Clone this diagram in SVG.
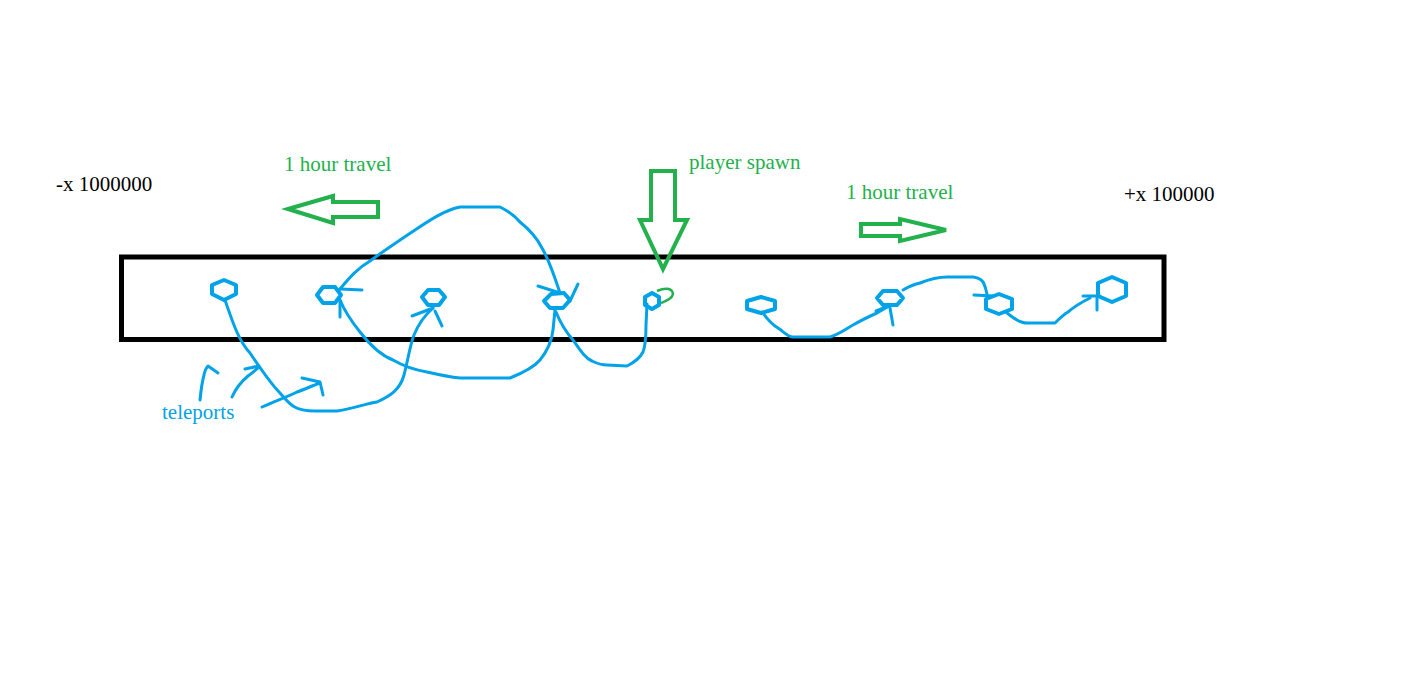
<svg xmlns="http://www.w3.org/2000/svg" width="1402" height="683" viewBox="0 0 1402 683">
<style>
.t{font-family:"Liberation Serif","Times New Roman",serif;font-size:21px}
.g{fill:#22B14C}.k{fill:#000}.b{fill:#00A2E8}
.hex{fill:none;stroke:#00A2E8;stroke-width:4;stroke-linejoin:round}
.cur{fill:none;stroke:#00A2E8;stroke-width:3;stroke-linecap:round;stroke-linejoin:round}
.ga{fill:none;stroke:#22B14C;stroke-width:4;stroke-linejoin:miter}
</style>
<rect width="1402" height="683" fill="#fff"/>
<rect id="bar" x="121.5" y="257" width="1042.5" height="82.5" fill="none" stroke="#000" stroke-width="5"/>
<g id="labels">
<text class="t k" x="56" y="191">-x 1000000</text>
<text class="t g" x="284" y="171">1 hour travel</text>
<text class="t g" x="689" y="169">player spawn</text>
<text class="t g" x="846" y="199">1 hour travel</text>
<text class="t k" x="1124" y="201">+x 100000</text>
<text class="t b" x="162" y="419">teleports</text>
</g>
<g id="green-arrows">
<polygon class="ga" points="288,209 333,196 333,202 378,202 378,217 333,217 333,223"/>
<polygon class="ga" points="651,171 675,171 675,220 687,220 663,269 640,220 651,220"/>
<polygon class="ga" points="861,224 900,224 900,219 946,230 900,241 900,236 861,236"/>
<path d="M657 291 C664 288 672 287 673 294 C672 299 666 301 661 303" fill="none" stroke="#22B14C" stroke-width="2.5"/>
</g>
<g id="teleport-nodes">
<polygon class="hex" points="224,280 236,285 236,294 224,300 212,294 212,285"/>
<polygon class="hex" points="317,295 323,287 335,287 341,295 335,303 323,303"/>
<polygon class="hex" points="422,297 428,290 439,290 445,297 439,305 428,305"/>
<polygon class="hex" points="544,301 551,294 564,293 570,300 563,308 550,308"/>
<polygon class="hex" points="652,293 659,297 659,305 652,309 645,305 645,297"/>
<polygon class="hex" points="761,297 775,301 775,309 761,313 747,309 747,301"/>
<polygon class="hex" points="877,298 883,291 897,291 903,298 897,305 883,305"/>
<polygon class="hex" points="999,294 1012,299 1012,309 999,314 986,309 986,299"/>
<polygon class="hex" points="1112,277 1126,283 1126,296 1112,302 1098,296 1098,283"/>
</g>
<g id="connectors">
<path class="cur" d="M225 300 C232 320 238 340 250 353 C258 365 270 383 280 393 C290 405 295 411 315 411 L337 411 C355 408 365 404 377 402 C390 396 400 390 404 375 C408 360 410 345 414 335 C418 325 424 316 433 308"/>
<path class="cur" d="M412 316 L433 308 M435 311 L442 326"/>
<path class="cur" d="M340 289 C350 277 358 268 370 261 C385 250 400 240 415 230 C430 220 445 210 460 207 L500 207 C510 212 515 216 520 222 C530 230 537 238 542 248 C550 262 555 278 560 293"/>
<path class="cur" d="M538 286 L560 293 M578 284 L570 301"/>
<path class="cur" d="M340 300 C345 312 352 322 360 332 C370 345 380 355 393 360 C405 367 415 370 427 372 C440 375 450 377 460 378 L510 378 C525 372 535 366 540 360 C548 350 552 340 553 330 L555 310"/>
<path class="cur" d="M340 289 L362 290 M340 300 L340 317"/>
<path class="cur" d="M556 312 C560 322 566 332 573 340 C580 350 585 358 592 361 C598 364 603 365 607 365 L627 366 C635 362 640 358 643 352 C646 345 646 335 646 325 L647 304"/>
<path class="cur" d="M763 313 C768 320 773 325 778 328 C784 332 788 337 793 337 L830 337 C840 334 846 329 853 325 C862 320 870 316 877 313 L889 306"/>
<path class="cur" d="M876 311 L889 306 M890 308 L893 325"/>
<path class="cur" d="M903 290 C910 286 915 284 920 283 C930 279 940 277 947 277 L973 277 C980 278 983 281 984 284 C986 288 986 291 987 294"/>
<path class="cur" d="M974 295 L993 296"/>
<path class="cur" d="M1007 313 C1013 318 1020 323 1027 323 L1055 323 C1060 318 1063 315 1068 312 C1075 306 1082 302 1090 298"/>
<path class="cur" d="M1083 296 L1100 296 M1097 297 L1097 310"/>
<path class="cur" d="M200 400 C201 390 202 382 204 375 C205 370 207 367 208 366 L218 373"/>
<path class="cur" d="M232 397 C236 388 242 381 248 376 C252 373 256 370 259 367 M245 369 L259 366"/>
<path class="cur" d="M262 407 C275 401 287 397 297 392 C305 389 312 386 320 383 M302 378 L320 382 L323 395"/>
</g>
</svg>
